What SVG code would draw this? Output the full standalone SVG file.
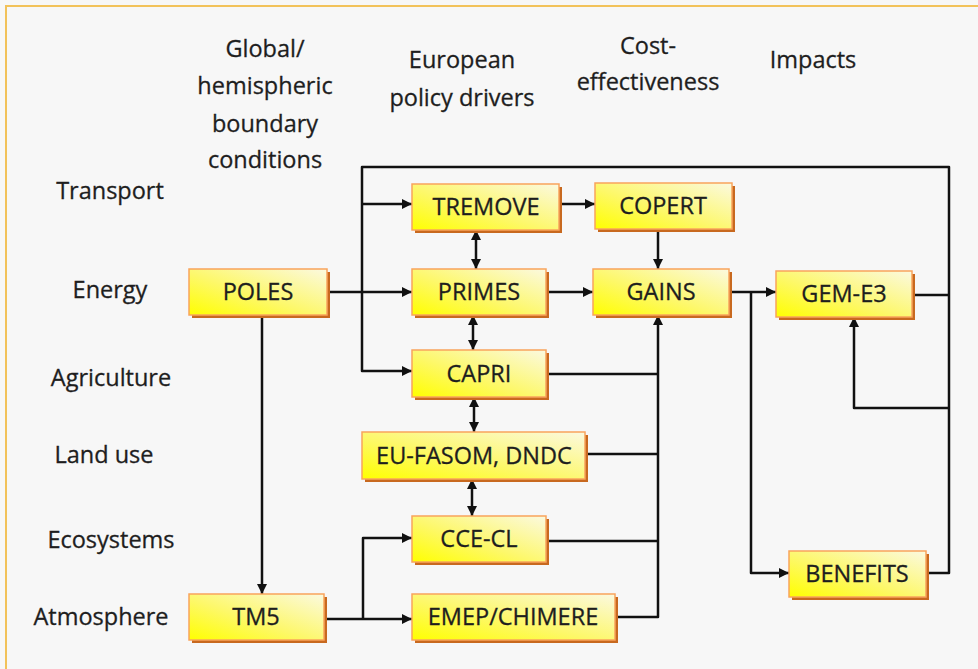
<svg xmlns="http://www.w3.org/2000/svg" width="978" height="669" viewBox="0 0 978 669">
  <defs>
    <linearGradient id="boxFill" x1="0" y1="1" x2="1" y2="0">
      <stop offset="0" stop-color="#ffff00"/>
      <stop offset="0.45" stop-color="#fdf86a"/>
      <stop offset="1" stop-color="#fbf9e0"/>
    </linearGradient>
    <marker id="arrow" viewBox="0 0 10 10" refX="10" refY="5" markerWidth="10" markerHeight="10" markerUnits="userSpaceOnUse" orient="auto-start-reverse">
      <path d="M0,0 L10,5 L0,10 z" fill="#111"/>
    </marker>
  </defs>
  <style>
    .frame { fill: #f7f7f7; }
    .edge-line { stroke: #f2c25a; stroke-width: 2; fill: none; }
    .label { font-family: "Open Sans", "Noto Sans", sans-serif; font-size: 23.5px; fill: #1e1e1e; stroke: #1e1e1e; stroke-width: 0.3; text-anchor: middle; }
    .shadow { fill: #c8691f; }
    .box { fill: url(#boxFill); stroke: #f9a45c; stroke-width: 1.5; }
    .conn { stroke: #111; stroke-width: 2.5; fill: none; stroke-linejoin: round; }
    .arr { marker-end: url(#arrow); }
    .both { marker-start: url(#arrow); marker-end: url(#arrow); }
  </style>

  <!-- page background and frame -->
  <rect class="frame" x="0" y="0" width="978" height="669"/>
  <path class="edge-line" d="M6,669 V6 H978"/>

  <!-- column headings -->
  <g id="headings">
    <text class="label" x="265" y="57">Global/</text>
    <text class="label" x="265" y="94">hemispheric</text>
    <text class="label" x="265" y="132">boundary</text>
    <text class="label" x="265" y="168">conditions</text>
    <text class="label" x="462" y="68">European</text>
    <text class="label" x="462" y="106">policy drivers</text>
    <text class="label" x="648" y="54">Cost-</text>
    <text class="label" x="648" y="90">effectiveness</text>
    <text class="label" x="813" y="68">Impacts</text>
  </g>

  <!-- row headings -->
  <g id="sectors">
    <text class="label" x="110" y="199">Transport</text>
    <text class="label" x="110" y="298">Energy</text>
    <text class="label" x="111" y="386">Agriculture</text>
    <text class="label" x="104" y="463">Land use</text>
    <text class="label" x="111" y="548">Ecosystems</text>
    <text class="label" x="101" y="625">Atmosphere</text>
  </g>

  <!-- connectors -->
  <g id="connectors">
    <!-- feedback loop from impacts back to the policy drivers -->
    <path class="conn" d="M912,295 H949"/>
    <path class="conn" d="M926,573 H949 V167 H362 V371 H412" marker-end="url(#arrow)"/>
    <path class="conn arr" d="M362,204 H412"/>
    <path class="conn arr" d="M949,408 H854 V317"/>
    <!-- POLES -->
    <path class="conn arr" d="M327,292 H412"/>
    <path class="conn arr" d="M262,315 V594"/>
    <!-- transport chain -->
    <path class="conn arr" d="M559,204 H595"/>
    <path class="conn arr" d="M658,229 V269"/>
    <path class="conn arr" d="M546,292 H593"/>
    <!-- two-way links between sector models -->
    <path class="conn both" d="M476,230 V269"/>
    <path class="conn both" d="M473,315 V350"/>
    <path class="conn both" d="M474,397 V432"/>
    <path class="conn both" d="M472,479 V516"/>
    <!-- inputs collected into GAINS -->
    <path class="conn" d="M546,374 H658"/>
    <path class="conn" d="M585,454 H658"/>
    <path class="conn" d="M546,541 H658"/>
    <path class="conn arr" d="M615,617 H658 V315"/>
    <!-- GAINS outputs -->
    <path class="conn arr" d="M729,292 H776"/>
    <path class="conn arr" d="M751,292 V573 H789"/>
    <!-- TM5 outputs -->
    <path class="conn arr" d="M324,619 H412"/>
    <path class="conn arr" d="M363,619 V538 H412"/>
  </g>

  <!-- model nodes -->
  <g id="poles">
    <rect class="shadow" x="192" y="272" width="138" height="46"/>
    <rect class="box" x="189" y="269" width="138" height="46"/>
    <text class="label" x="258" y="300">POLES</text>
  </g>
  <g id="tremove">
    <rect class="shadow" x="415" y="187" width="147" height="46"/>
    <rect class="box" x="412" y="184" width="147" height="46"/>
    <text class="label" x="486" y="215">TREMOVE</text>
  </g>
  <g id="primes">
    <rect class="shadow" x="415" y="272" width="134" height="46"/>
    <rect class="box" x="412" y="269" width="134" height="46"/>
    <text class="label" x="479" y="300">PRIMES</text>
  </g>
  <g id="capri">
    <rect class="shadow" x="415" y="353" width="134" height="47"/>
    <rect class="box" x="412" y="350" width="134" height="47"/>
    <text class="label" x="479" y="382">CAPRI</text>
  </g>
  <g id="eu-fasom">
    <rect class="shadow" x="365" y="435" width="223" height="47"/>
    <rect class="box" x="362" y="432" width="223" height="47"/>
    <text class="label" x="474" y="464">EU-FASOM, DNDC</text>
  </g>
  <g id="cce-cl">
    <rect class="shadow" x="415" y="519" width="134" height="46"/>
    <rect class="box" x="412" y="516" width="134" height="46"/>
    <text class="label" x="479" y="547">CCE-CL</text>
  </g>
  <g id="tm5">
    <rect class="shadow" x="192" y="597" width="135" height="46"/>
    <rect class="box" x="189" y="594" width="135" height="46"/>
    <text class="label" x="256" y="625">TM5</text>
  </g>
  <g id="emep">
    <rect class="shadow" x="415" y="597" width="203" height="46"/>
    <rect class="box" x="412" y="594" width="203" height="46"/>
    <text class="label" x="513" y="625">EMEP/CHIMERE</text>
  </g>
  <g id="copert">
    <rect class="shadow" x="598" y="186" width="137" height="46"/>
    <rect class="box" x="595" y="183" width="137" height="46"/>
    <text class="label" x="663" y="214">COPERT</text>
  </g>
  <g id="gains">
    <rect class="shadow" x="596" y="272" width="136" height="46"/>
    <rect class="box" x="593" y="269" width="136" height="46"/>
    <text class="label" x="661" y="300">GAINS</text>
  </g>
  <g id="gem-e3">
    <rect class="shadow" x="779" y="274" width="136" height="46"/>
    <rect class="box" x="776" y="271" width="136" height="46"/>
    <text class="label" x="844" y="302">GEM-E3</text>
  </g>
  <g id="benefits">
    <rect class="shadow" x="792" y="554" width="137" height="46"/>
    <rect class="box" x="789" y="551" width="137" height="46"/>
    <text class="label" x="857" y="582">BENEFITS</text>
  </g>
</svg>
